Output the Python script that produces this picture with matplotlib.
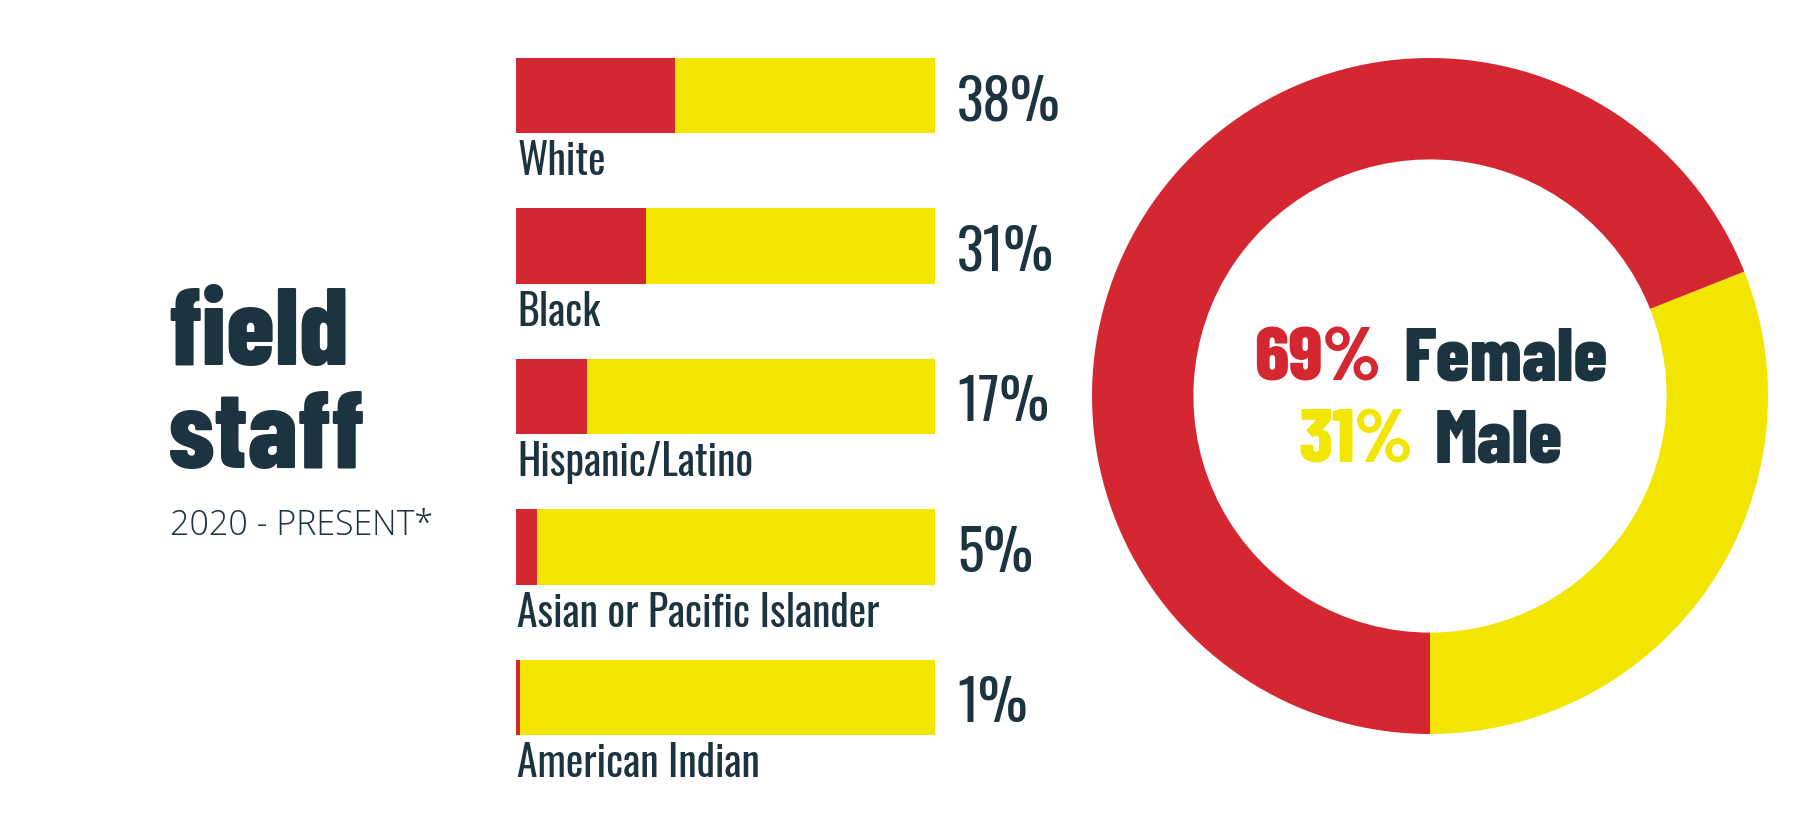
import numpy as np
import matplotlib
matplotlib.use('Agg')
import matplotlib.pyplot as plt

# field staff, 2020 - present
groups = ['White', 'Black', 'Hispanic/Latino', 'Asian or Pacific Islander', 'American Indian']
shares = [38, 31, 17, 5, 1]
genders = ['Female', 'Male']
gender_shares = [69, 31]

RED = '#d42731'
YELLOW = '#f2e500'
NAVY = '#1c3340'
COND = ['Oswald', 'Roboto Condensed', 'DejaVu Sans']
BOLD = ['Barlow Condensed', 'Roboto Condensed', 'DejaVu Sans']
W, H = 1800, 825


def fx(px):
    return px / W


def fy(py):
    return 1 - py / H


def main():
    fig = plt.figure(figsize=(18, 8.25), dpi=100)
    fig.patch.set_facecolor('white')

    # title block
    fig.text(fx(168), fy(365), 'field', family=BOLD, weight=800,
             size=79, color=NAVY, ha='left', va='baseline')
    fig.text(fx(168), fy(468), 'staff', family=BOLD, weight=800,
             size=79, color=NAVY, ha='left', va='baseline')
    fig.text(fx(170), fy(535), '2020 - PRESENT*', family=['Open Sans', 'DejaVu Sans'],
             weight=300, size=24.5, color=NAVY, ha='left', va='baseline')

    # stacked bars
    ax = fig.add_axes([0.28667, 0.06333, 0.23278, 0.91212])
    y = np.arange(len(groups))
    rest = [100 - s for s in shares]
    ax.barh(y, shares, height=0.5, color=RED, linewidth=0)
    ax.barh(y, rest, left=shares, height=0.5, color=YELLOW, linewidth=0)
    ax.set_xlim(0, 100)
    ax.set_ylim(len(groups) - 0.5, -0.5)
    ax.axis('off')
    for i, (g, s) in enumerate(zip(groups, shares)):
        ax.text(0.3, i + 0.53, g, family=COND, size=30, color=NAVY,
                ha='left', va='baseline', clip_on=False)
        ax.text(105.3, i + 0.165, f'{s}%', family=COND, size=40, color=NAVY,
                ha='left', va='baseline', clip_on=False)

    # donut
    ax2 = fig.add_axes([0.60667, 0.11030, 0.37556, 0.81939])
    ax2.pie(gender_shares[::-1], colors=[YELLOW, RED], startangle=-90,
            counterclock=True, wedgeprops=dict(width=0.3, linewidth=0))
    ax2.set_xlim(-1, 1)
    ax2.set_ylim(-1, 1)
    ax2.set_aspect('equal')
    ax2.axis('off')

    # centre text, two colours per line
    renderer = fig.canvas.get_renderer()
    cx = 1431
    lines = [(f'{gender_shares[0]}%', RED, genders[0], 380),
             (f'{gender_shares[1]}%', YELLOW, genders[1], 463)]
    for pct, col, name, base in lines:
        t1 = fig.text(0, fy(base), pct, family=BOLD, weight=800, size=55,
                      color=col, ha='left', va='baseline')
        t2 = fig.text(0, fy(base), name, family=BOLD, weight=800, size=55,
                      color=NAVY, ha='left', va='baseline')
        w1 = t1.get_window_extent(renderer).width
        w2 = t2.get_window_extent(renderer).width
        gap = 22
        x0 = cx - (w1 + gap + w2) / 2
        t1.set_x(fx(x0))
        t2.set_x(fx(x0 + w1 + gap))

    fig.savefig('out.png', dpi=100, facecolor='white')


if __name__ == '__main__':
    main()
